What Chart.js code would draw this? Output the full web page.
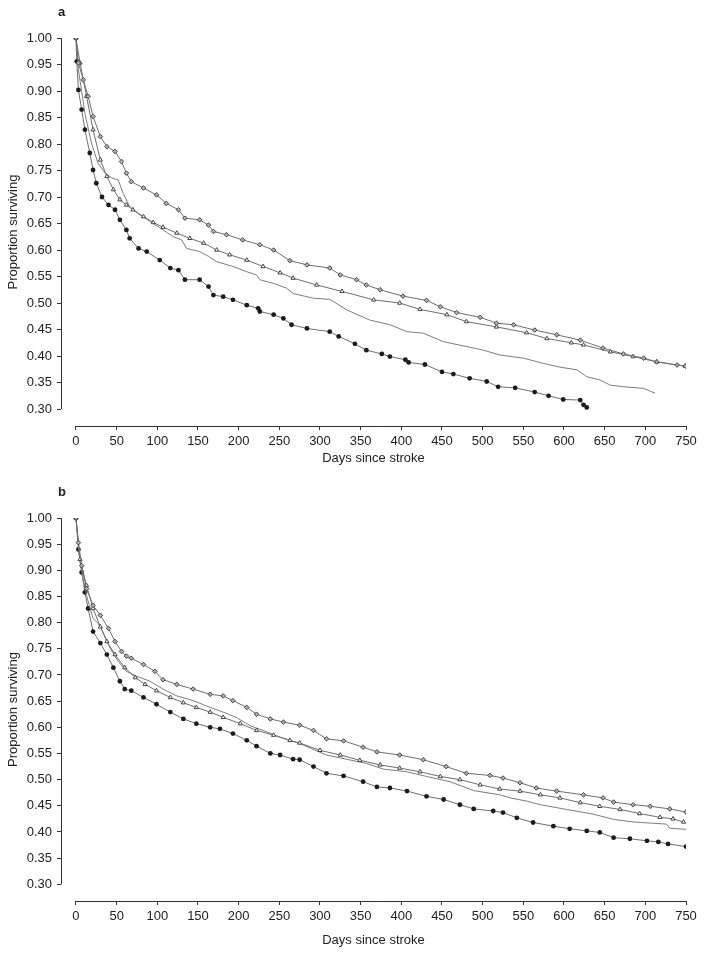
<!DOCTYPE html>
<html>
<head>
<meta charset="utf-8">
<script src="https://cdn.jsdelivr.net/npm/chart.js@4.4.1/dist/chart.umd.min.js"></script>
<style>
  body { margin:0; background:#fff; width:704px; height:955px; overflow:hidden; position:relative; font-family:"Liberation Sans", Arial, sans-serif; }
  .panel { position:absolute; left:0; width:704px; }
  .tag { position:absolute; left:58px; font-weight:bold; font-size:13px; color:#222; }
</style>
</head>
<body>
<div class="panel" style="top:0;height:480px;"><canvas id="chartA" width="704" height="480"></canvas></div>
<div class="tag" style="top:4px;">a</div>
<div class="panel" style="top:480px;height:475px;"><canvas id="chartB" width="704" height="475"></canvas></div>
<div class="tag" style="top:484px;">b</div>

<script>
// axis ticks
var xTicks = [0,50,100,150,200,250,300,350,400,450,500,550,600,650,700,750];
var yTicks = [0.30,0.35,0.40,0.45,0.50,0.55,0.60,0.65,0.70,0.75,0.80,0.85,0.90,0.95,1.00];

// panel a
var aDiamondDays = [0,3,9,15,21,30,38,48,56,62,68,83,99,111,126,134,152,163,169,185,205,226,243,263,284,312,325,345,357,374,402,431,448,468,497,517,538,564,591,620,648,673,698,714,739,749];
var aDiamondSurv = [1.00,0.953,0.921,0.89,0.852,0.814,0.795,0.786,0.767,0.745,0.729,0.717,0.704,0.688,0.676,0.66,0.657,0.647,0.635,0.629,0.619,0.61,0.60,0.58,0.572,0.566,0.553,0.544,0.534,0.525,0.513,0.505,0.493,0.482,0.473,0.462,0.459,0.449,0.44,0.43,0.415,0.404,0.396,0.389,0.383,0.381];

var aTriangleDays = [0,5,13,21,30,38,46,54,62,70,83,95,107,124,140,157,173,189,210,230,251,267,296,327,366,398,423,456,480,517,554,579,609,624,657,685,714,749];
var aTriangleSurv = [1.00,0.953,0.89,0.827,0.77,0.739,0.714,0.695,0.685,0.676,0.663,0.652,0.643,0.632,0.622,0.613,0.60,0.591,0.581,0.569,0.557,0.547,0.534,0.522,0.506,0.50,0.488,0.478,0.465,0.455,0.444,0.433,0.425,0.421,0.408,0.399,0.389,0.381];

var aPlainDays = [0,3,11,19,27,36,44,52,58,66,79,91,107,120,130,136,152,163,173,193,210,222,226,243,259,267,292,312,333,361,386,407,427,452,480,501,521,550,575,595,616,628,644,657,673,698,712];
var aPlainSurv = [1.00,0.94,0.858,0.802,0.764,0.745,0.736,0.732,0.707,0.682,0.666,0.654,0.638,0.625,0.619,0.603,0.597,0.588,0.578,0.569,0.559,0.553,0.544,0.537,0.528,0.518,0.509,0.507,0.487,0.468,0.459,0.446,0.443,0.427,0.418,0.411,0.402,0.396,0.386,0.379,0.374,0.361,0.355,0.345,0.342,0.339,0.330];

var aDotDays = [0,1,3,7,11,17,21,25,32,40,48,54,62,66,77,87,103,116,126,134,152,163,169,181,193,210,224,226,243,255,265,284,312,323,343,357,376,386,405,409,429,450,464,484,505,519,540,564,581,599,620,624,628];
var aDotSurv = [1.00,0.956,0.902,0.865,0.827,0.783,0.751,0.726,0.70,0.685,0.676,0.657,0.638,0.622,0.603,0.597,0.581,0.566,0.562,0.544,0.544,0.531,0.515,0.512,0.506,0.496,0.49,0.484,0.478,0.471,0.459,0.452,0.446,0.437,0.423,0.411,0.404,0.399,0.393,0.388,0.384,0.370,0.366,0.358,0.352,0.342,0.340,0.332,0.325,0.318,0.317,0.308,0.303];

// panel b
var bDiamondDays = [0,3,7,13,21,30,40,48,56,62,68,83,97,107,124,144,165,181,193,210,222,239,255,275,292,308,329,353,370,398,427,455,480,509,525,546,566,591,624,648,661,685,706,730,750];
var bDiamondSurv = [1.00,0.953,0.909,0.865,0.833,0.814,0.789,0.764,0.745,0.736,0.732,0.72,0.707,0.691,0.682,0.673,0.663,0.66,0.651,0.638,0.625,0.616,0.61,0.604,0.594,0.578,0.574,0.562,0.553,0.547,0.538,0.525,0.512,0.508,0.503,0.494,0.484,0.478,0.471,0.465,0.457,0.452,0.449,0.444,0.438];

var bTriangleDays = [0,5,13,21,30,38,48,60,73,85,99,116,132,148,165,181,202,222,243,263,275,300,325,349,374,398,423,448,472,497,521,546,571,595,620,644,669,693,718,734,747];
var bTriangleSurv = [1.00,0.921,0.871,0.827,0.792,0.764,0.739,0.714,0.695,0.682,0.67,0.657,0.647,0.638,0.629,0.619,0.607,0.594,0.585,0.575,0.57,0.556,0.547,0.537,0.528,0.522,0.515,0.506,0.50,0.49,0.482,0.478,0.471,0.465,0.456,0.449,0.443,0.435,0.428,0.425,0.419];

var bPlainDays = [0,5,13,21,27,33,42,52,62,74,91,107,124,144,165,181,197,214,230,251,275,308,357,378,407,431,460,489,521,534,554,571,603,636,661,685,726,730,750];
var bPlainSurv = [1.00,0.915,0.852,0.808,0.799,0.783,0.751,0.726,0.707,0.698,0.688,0.673,0.66,0.651,0.638,0.629,0.619,0.603,0.594,0.581,0.569,0.547,0.531,0.52,0.515,0.506,0.496,0.479,0.471,0.465,0.459,0.452,0.443,0.434,0.424,0.419,0.415,0.407,0.405];

var bDotDays = [0,3,7,11,15,21,30,38,46,54,60,68,83,99,116,132,148,165,177,193,210,222,239,251,267,275,292,308,329,353,370,386,407,431,452,472,489,513,525,542,562,587,607,628,644,661,681,702,716,728,750];
var bDotSurv = [1.00,0.94,0.896,0.858,0.827,0.783,0.761,0.739,0.714,0.688,0.673,0.67,0.657,0.644,0.629,0.616,0.607,0.60,0.597,0.588,0.575,0.564,0.55,0.547,0.539,0.538,0.525,0.512,0.507,0.496,0.486,0.484,0.478,0.468,0.462,0.452,0.444,0.44,0.437,0.427,0.418,0.411,0.406,0.402,0.399,0.389,0.387,0.383,0.381,0.377,0.372];

var textColor = '#222';
var lineGrey = '#6e6e6e';
var fontFamily = '"Liberation Sans", Arial, sans-serif';

function toPoints(days, surv) {
  var pts = [];
  for (var i = 0; i < days.length; i++) {
    pts.push({x: days[i], y: surv[i]});
  }
  return pts;
}

// axes in the original don't meet, so draw them only over the tick range
var detachedAxes = {
  id: 'detachedAxes',
  afterDraw: function(chart) {
    var ctx = chart.ctx;
    var xs = chart.scales.x, ys = chart.scales.y;
    var area = chart.chartArea;
    ctx.save();
    ctx.strokeStyle = '#333';
    ctx.lineWidth = 1;
    ctx.beginPath();
    ctx.moveTo(Math.round(area.left) + 0.5, ys.getPixelForValue(yTicks[yTicks.length - 1]));
    ctx.lineTo(Math.round(area.left) + 0.5, ys.getPixelForValue(yTicks[0]));
    ctx.moveTo(xs.getPixelForValue(xTicks[0]), Math.round(area.bottom) + 0.5);
    ctx.lineTo(xs.getPixelForValue(xTicks[xTicks.length - 1]), Math.round(area.bottom) + 0.5);
    ctx.stroke();
    ctx.restore();
  }
};

function showPanel(canvasId, series, bottomPad) {
  var datasets = [
    {
      label: 'diamond',
      data: toPoints(series[0][0], series[0][1]),
      borderColor: lineGrey, borderWidth: 1,
      pointStyle: 'rectRot', pointRadius: 2.3,
      pointBackgroundColor: '#b0b0b0', pointBorderColor: '#444', pointBorderWidth: 1
    },
    {
      label: 'triangle',
      data: toPoints(series[1][0], series[1][1]),
      borderColor: lineGrey, borderWidth: 1,
      pointStyle: 'triangle', pointRadius: 2.4,
      pointBackgroundColor: '#fff', pointBorderColor: '#444', pointBorderWidth: 1
    },
    {
      label: 'plain',
      data: toPoints(series[2][0], series[2][1]),
      borderColor: '#7d7d7d', borderWidth: 1,
      pointRadius: 0
    },
    {
      label: 'dot',
      data: toPoints(series[3][0], series[3][1]),
      borderColor: lineGrey, borderWidth: 1,
      pointStyle: 'circle', pointRadius: 2.4,
      pointBackgroundColor: '#1c1c1c', pointBorderColor: '#1c1c1c', pointBorderWidth: 0
    }
  ];

  new Chart(document.getElementById(canvasId), {
    type: 'line',
    data: { datasets: datasets },
    options: {
      responsive: false,
      animation: false,
      devicePixelRatio: 1,
      layout: { padding: { left: 0, right: 18, top: 38, bottom: 0 } },
      plugins: { legend: { display: false }, tooltip: { enabled: false } },
      elements: { line: { tension: 0 } },
      scales: {
        x: {
          type: 'linear',
          min: -18.4, max: 750,
          afterBuildTicks: function(scale) {
            scale.ticks = xTicks.map(function(v) { return {value: v}; });
          },
          afterFit: function(scale) { scale.height = 54; },
          grid: { drawOnChartArea: false, drawTicks: true, tickLength: 4, color: '#333' },
          border: { display: false },
          ticks: {
            autoSkip: false, maxRotation: 0, padding: 4, color: textColor,
            font: { family: fontFamily, size: 13 },
            callback: function(v) { return String(v); }
          },
          title: {
            display: true, text: 'Days since stroke', color: textColor,
            font: { family: fontFamily, size: 13 },
            padding: { top: 0, bottom: bottomPad }
          }
        },
        y: {
          type: 'linear',
          min: 0.268, max: 1.0,
          afterBuildTicks: function(scale) {
            scale.ticks = yTicks.map(function(v) { return {value: v}; });
          },
          afterFit: function(scale) { scale.width = 61; },
          grid: { drawOnChartArea: false, drawTicks: true, tickLength: 4, color: '#333' },
          border: { display: false },
          ticks: {
            autoSkip: false, padding: 5, color: textColor,
            font: { family: fontFamily, size: 13 },
            callback: function(v) { return v.toFixed(2); }
          },
          title: {
            display: true, text: 'Proportion surviving', color: textColor,
            font: { family: fontFamily, size: 13 },
            padding: { top: 6, bottom: 0 }
          }
        }
      }
    },
    plugins: [detachedAxes]
  });
}

showPanel('chartA', [
  [aDiamondDays, aDiamondSurv],
  [aTriangleDays, aTriangleSurv],
  [aPlainDays, aPlainSurv],
  [aDotDays, aDotSurv]
], 14);

showPanel('chartB', [
  [bDiamondDays, bDiamondSurv],
  [bTriangleDays, bTriangleSurv],
  [bPlainDays, bPlainSurv],
  [bDotDays, bDotSurv]
], 7);
</script>
</body>
</html>
